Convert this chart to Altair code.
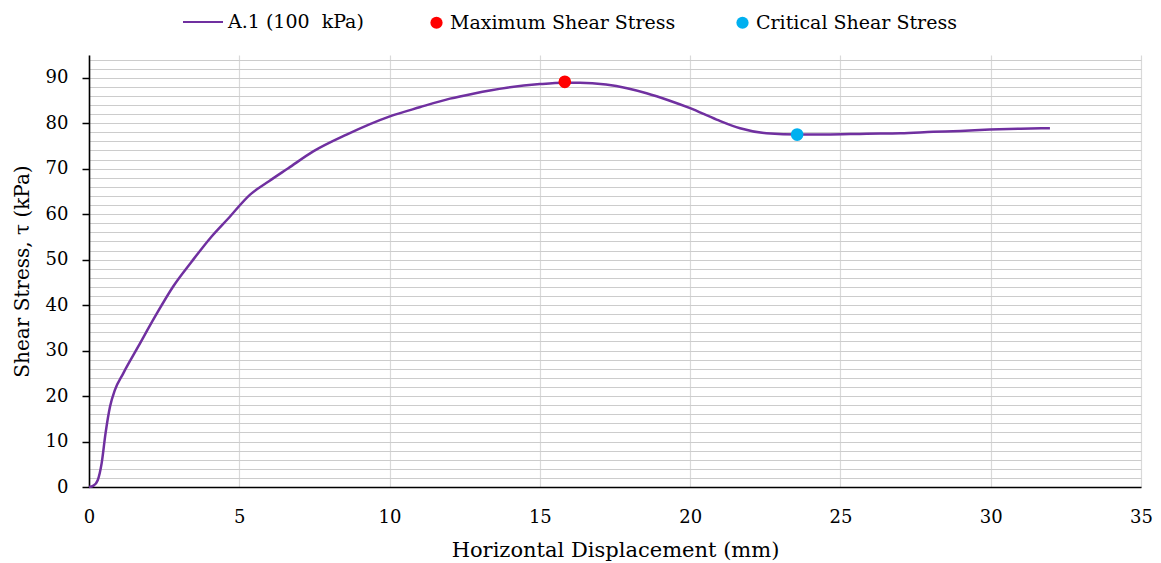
import altair as alt
import pandas as pd

# Direct shear test A.1, normal stress 100 kPa
disp_mm = [0, 0.15, 0.29, 0.42, 0.55, 0.70, 0.86, 1.14, 1.64, 2.20, 2.80, 3.42,
           4.08, 4.64, 5.36, 6.0, 6.63, 7.46, 8.57, 10.01, 11.0, 12.01, 12.78,
           13.9, 15.0, 15.8, 16.33, 17.2, 17.9, 18.55, 19.3, 20.0, 20.88, 21.66,
           22.54, 23.65, 24.5, 25.87, 27.0, 28.09, 29.0, 29.97, 31.0, 31.97]
shear_kpa = [0, 0.3, 1.5, 5.2, 11.8, 17.7, 21.3, 25.0, 30.9, 37.5, 44.1, 49.6,
             55.1, 59.1, 64.3, 67.3, 70.1, 73.8, 77.5, 81.5, 83.5, 85.4, 86.5,
             87.8, 88.6, 88.9, 88.9, 88.5, 87.7, 86.6, 85.0, 83.3, 80.8, 78.9,
             77.8, 77.5, 77.5, 77.7, 77.8, 78.1, 78.3, 78.6, 78.8, 78.9]

series_name = "A.1 (100\u00a0 kPa)"
marker_names = ["Maximum Shear Stress", "Critical Shear Stress"]
marker_disp = [15.83, 23.56]
marker_shear = [89.1, 77.5]
marker_colors = ["#FF0000", "#00B0F0"]
line_color = "#7030A0"

x_ticks = list(range(0, 36, 5))
y_grid = list(range(0, 95, 2))

FONT = "DejaVu Serif"

curve = pd.DataFrame({"disp": disp_mm, "shear": shear_kpa, "series": series_name})
markers = pd.DataFrame({"disp": marker_disp, "shear": marker_shear, "kind": marker_names})

x_enc = alt.X(
    "disp:Q",
    scale=alt.Scale(domain=[0, 35], nice=False, zero=False),
    axis=alt.Axis(
        values=x_ticks, tickCount=100, format="d",
        title="Horizontal Displacement (mm)",
        grid=True, gridColor="#d9d9d9", gridWidth=1.2,
        ticks=False, labelPadding=21, titlePadding=13,
        labelFlush=False, labelOverlap=False,
        titleFontSize=21,
        domainColor="#000000", domainWidth=1.6,
    ),
)
y_enc = alt.Y(
    "shear:Q",
    scale=alt.Scale(domain=[0, 95], nice=False, zero=True),
    axis=alt.Axis(
        values=y_grid, tickCount=100, format="d",
        labelExpr="datum.value % 10 === 0 ? datum.label : ''",
        title="Shear Stress, \u03c4  (kPa)",
        grid=True, gridColor="#cccccc", gridWidth=1,
        tickSize=7, tickColor="#000000", tickWidth=1.5,
        tickOpacity={"expr": "datum.value % 10 === 0 ? 1 : 0"},
        labelPadding=14, titlePadding=13,
        labelFlush=False, labelOverlap=False,
        titleFontSize=20,
        domainColor="#000000", domainWidth=1.6,
    ),
)

line = alt.Chart(curve).mark_line(strokeWidth=2.5, interpolate="monotone").encode(
    x=x_enc,
    y=y_enc,
    stroke=alt.Stroke(
        "series:N",
        scale=alt.Scale(domain=[series_name], range=[line_color]),
        legend=alt.Legend(
            title=None, orient="none", legendX=93, legendY=-54,
            symbolType="stroke", symbolSize=1600, symbolStrokeWidth=2,
            labelOffset=4, padding=0, labelLimit=0,
        ),
    ),
)

points = alt.Chart(markers).mark_point(filled=True, size=160, opacity=1).encode(
    x="disp:Q",
    y="shear:Q",
    fill=alt.Fill(
        "kind:N",
        scale=alt.Scale(domain=marker_names, range=marker_colors),
        legend=alt.Legend(
            title=None, orient="none", legendX=338, legendY=-42,
            direction="horizontal", symbolType="circle", symbolSize=150,
            symbolStrokeWidth=0, labelOffset=4, columnPadding=57, padding=0,
            labelLimit=0,
        ),
    ),
)

chart = (
    alt.layer(line, points)
    .properties(
        width=1052, height=432,
        autosize=alt.AutoSizeParams(type="none"),
        padding={"left": 89, "top": 55, "right": 20, "bottom": 76},
    )
    .configure_view(stroke=None)
    .configure_axis(
        labelFont=FONT, titleFont=FONT, labelFontSize=18,
        labelColor="#000000", titleColor="#000000", titleFontWeight="normal",
    )
    .configure_legend(labelFont=FONT, labelFontSize=19, labelColor="#000000")
)

chart.save("out.html", embed_options={"renderer": "svg", "actions": False})
